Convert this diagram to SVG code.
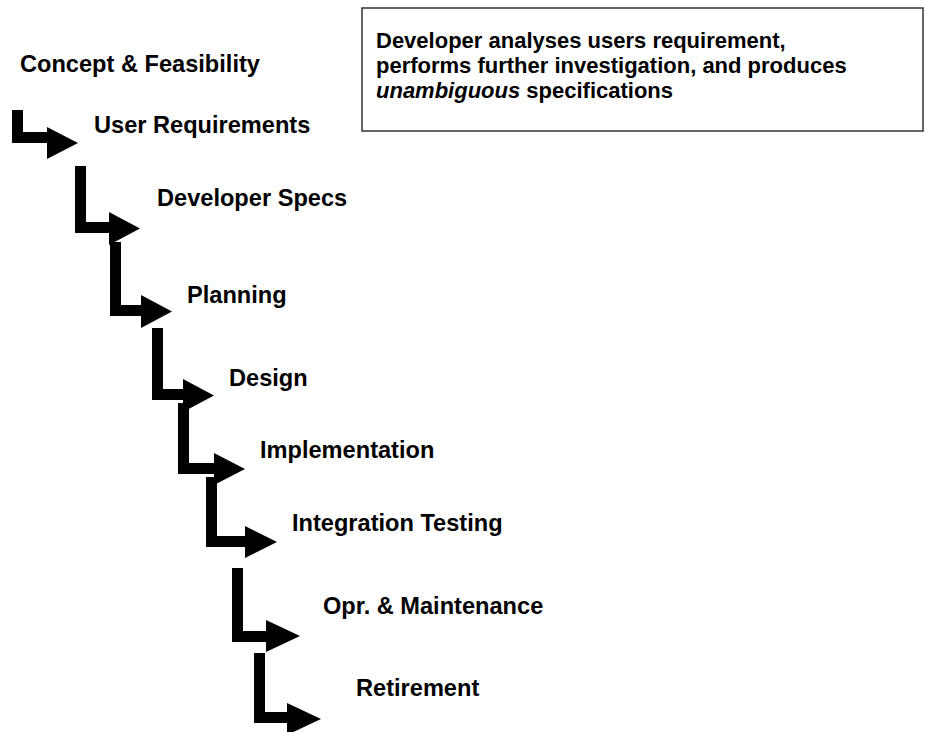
<svg xmlns="http://www.w3.org/2000/svg" width="926" height="732" viewBox="0 0 926 732">
<style>
.lbl{font-family:"Liberation Sans",Arial,sans-serif;font-weight:bold;font-size:23.6px;fill:#000}
.note{font-family:"Liberation Sans",Arial,sans-serif;font-weight:bold;font-size:22px;fill:#000}
.arr{fill:#000;stroke:none}
.box{fill:#fff;stroke:#333;stroke-width:1.5}
</style>
<rect width="926" height="732" fill="#fff"/>
<g id="connectors">
<path class="arr" d="M12,110 H23 V132 H47 V127 L78,143 L47,159 V143 H12 Z"/>
<path class="arr" d="M75,166 H86 V222 H109 V212 L140,228.5 L109,245 V233 H75 Z"/>
<path class="arr" d="M110,242 H121 V305 H141 V295 L172,311.5 L141,328 V316 H110 Z"/>
<path class="arr" d="M152,328 H163 V389 H183 V379 L214,395.5 L183,412 V400 H152 Z"/>
<path class="arr" d="M178,403 H189 V463 H214 V453 L245,469 L214,485 V474 H178 Z"/>
<path class="arr" d="M206,477 H217 V536 H245 V526 L277,542 L245,558 V547 H206 Z"/>
<path class="arr" d="M232,568 H243 V631 H266 V620 L300,636 L266,652 V642 H232 Z"/>
<path class="arr" d="M254,653 H265 V712 H287 V703 L321,719 L287,735 V723 H254 Z"/>
</g>
<g id="concept"><text class="lbl" x="20" y="72">Concept &amp; Feasibility</text></g>
<g id="user-req"><text class="lbl" x="94" y="133">User Requirements</text></g>
<g id="dev-specs"><text class="lbl" x="157" y="206">Developer Specs</text></g>
<g id="planning"><text class="lbl" x="187" y="303">Planning</text></g>
<g id="design"><text class="lbl" x="229" y="386">Design</text></g>
<g id="implementation"><text class="lbl" x="260" y="458">Implementation</text></g>
<g id="integration"><text class="lbl" x="292" y="531">Integration Testing</text></g>
<g id="maintenance"><text class="lbl" x="323" y="614">Opr. &amp; Maintenance</text></g>
<g id="retirement"><text class="lbl" x="356" y="696">Retirement</text></g>
<g id="note">
<rect class="box" x="362" y="8" width="561" height="123"/>
<text class="note" x="376" y="48">Developer analyses users requirement,</text>
<text class="note" x="376" y="73">performs further investigation, and produces</text>
<text class="note" x="376" y="98"><tspan font-style="italic">unambiguous</tspan> specifications</text>
</g>
</svg>
